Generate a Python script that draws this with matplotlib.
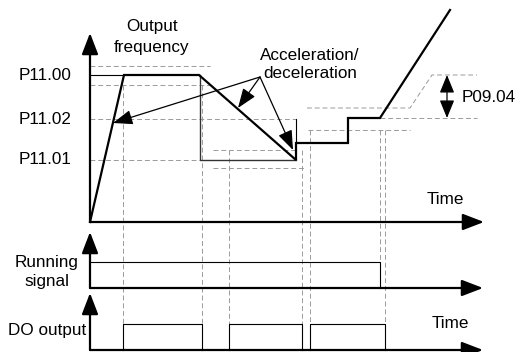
import matplotlib.pyplot as plt

# output frequency waveform (diagram units = pixels, y grows downward)
freq_t = [90, 124, 199, 296, 296, 348, 348, 380, 450]
freq_y = [222, 75, 75, 160, 143, 143, 118, 118, 10]

level_names = ['P11.00', 'P11.02', 'P11.01']
level_y = [75, 119, 160]

# running signal: high from start until it drops
run_on = (90, 380)

# DO output pulses (on, off)
do_on = [(123, 202), (229, 302), (310, 385)]

plt.rcParams['font.family'] = ['Liberation Sans', 'DejaVu Sans']
fs = 12.3

fig = plt.figure(figsize=(5.16, 3.52), dpi=100)
ax = fig.add_axes([0, 0, 1, 1])
ax.set_xlim(0, 516)
ax.set_ylim(352, 0)
ax.axis('off')

thick = 1.6
thin = 0.8
guide = dict(color='#9a9a9a', lw=0.7, ls=(0, (5, 3)))


def axis_arrow(x0, y0, x1, y1):
    ax.annotate('', xy=(x1, y1), xytext=(x0, y0),
                arrowprops=dict(arrowstyle='-|>,head_length=1.3,head_width=0.5',
                                lw=thick, color='k', shrinkA=0, shrinkB=0,
                                mutation_scale=10))


def pointer(x0, y0, x1, y1):
    ax.annotate('', xy=(x1, y1), xytext=(x0, y0),
                arrowprops=dict(arrowstyle='-|>,head_length=1.2,head_width=0.45',
                                lw=0.9, color='k', shrinkA=0, shrinkB=0,
                                mutation_scale=10))


# dashed guide lines
guides = [
    ([90, 210], [66, 66]),
    ([90, 210], [85, 85]),
    ([90, 296], [119, 119]),
    ([90, 200], [160, 160]),
    ([213, 296], [150, 150]),
    ([213, 305], [168, 168]),
    ([308, 410], [130, 130]),
    ([307, 410, 432, 477], [108, 108, 75, 75]),
    ([380, 477], [118, 118]),
    ([123, 123], [85, 350]),
    ([202, 202], [85, 350]),
    ([229, 229], [150, 350]),
    ([302, 302], [150, 350]),
    ([310, 310], [130, 350]),
    ([380, 380], [130, 288]),
    ([385, 385], [130, 350]),
]
for gx, gy in guides:
    ax.plot(gx, gy, **guide)

# thin solid reference lines
ax.plot([90, 124], [75, 75], color='k', lw=thin)
ax.plot([200, 200, 296], [75, 160, 160], color='#333333', lw=1.0)
ax.plot([296, 296], [119, 143], color='k', lw=thin)

# waveform
ax.plot(freq_t, freq_y, color='k', lw=thick, solid_joinstyle='miter')

# running signal
ax.plot([run_on[0], run_on[1], run_on[1]], [262, 262, 288], color='k', lw=thin)

# DO output
for t_on, t_off in do_on:
    ax.plot([t_on, t_on, t_off, t_off], [350, 324, 324, 350], color='k', lw=thin)

# axes with arrows
axis_arrow(90, 222, 90, 33)
axis_arrow(90, 222, 484, 222)
axis_arrow(90, 288, 90, 232)
axis_arrow(90, 288, 483, 288)
axis_arrow(90, 350, 90, 293)
axis_arrow(90, 350, 483, 350)

# level labels
for name, y in zip(level_names, level_y):
    ax.text(72, y, name, fontsize=fs, ha='right', va='center')

ax.text(152, 37, 'Output\nfrequency', fontsize=fs, ha='center', va='center',
        linespacing=1.5)
ax.text(47, 272, 'Running\nsignal', fontsize=fs, ha='center', va='center',
        linespacing=1.4)
ax.text(47, 331, 'DO output', fontsize=fs, ha='center', va='center')
ax.text(445, 200, 'Time', fontsize=fs, ha='center', va='center')
ax.text(450, 324, 'Time', fontsize=fs, ha='center', va='center')
ax.text(310, 65, 'Acceleration/\ndeceleration', fontsize=fs, ha='center',
        va='center', linespacing=1.25)

# acceleration/deceleration pointers
pointer(260, 77, 113, 123)
pointer(260, 77, 238, 108)
pointer(260, 77, 293, 150)

# P09.04 double arrow
ax.annotate('', xy=(447, 75), xytext=(447, 118),
            arrowprops=dict(arrowstyle='<|-|>,head_length=1.1,head_width=0.45',
                            lw=0.9, color='k', shrinkA=0, shrinkB=0,
                            mutation_scale=10))
ax.text(462, 97, 'P09.04', fontsize=fs, ha='left', va='center')

fig.savefig('out.png', dpi=100)
